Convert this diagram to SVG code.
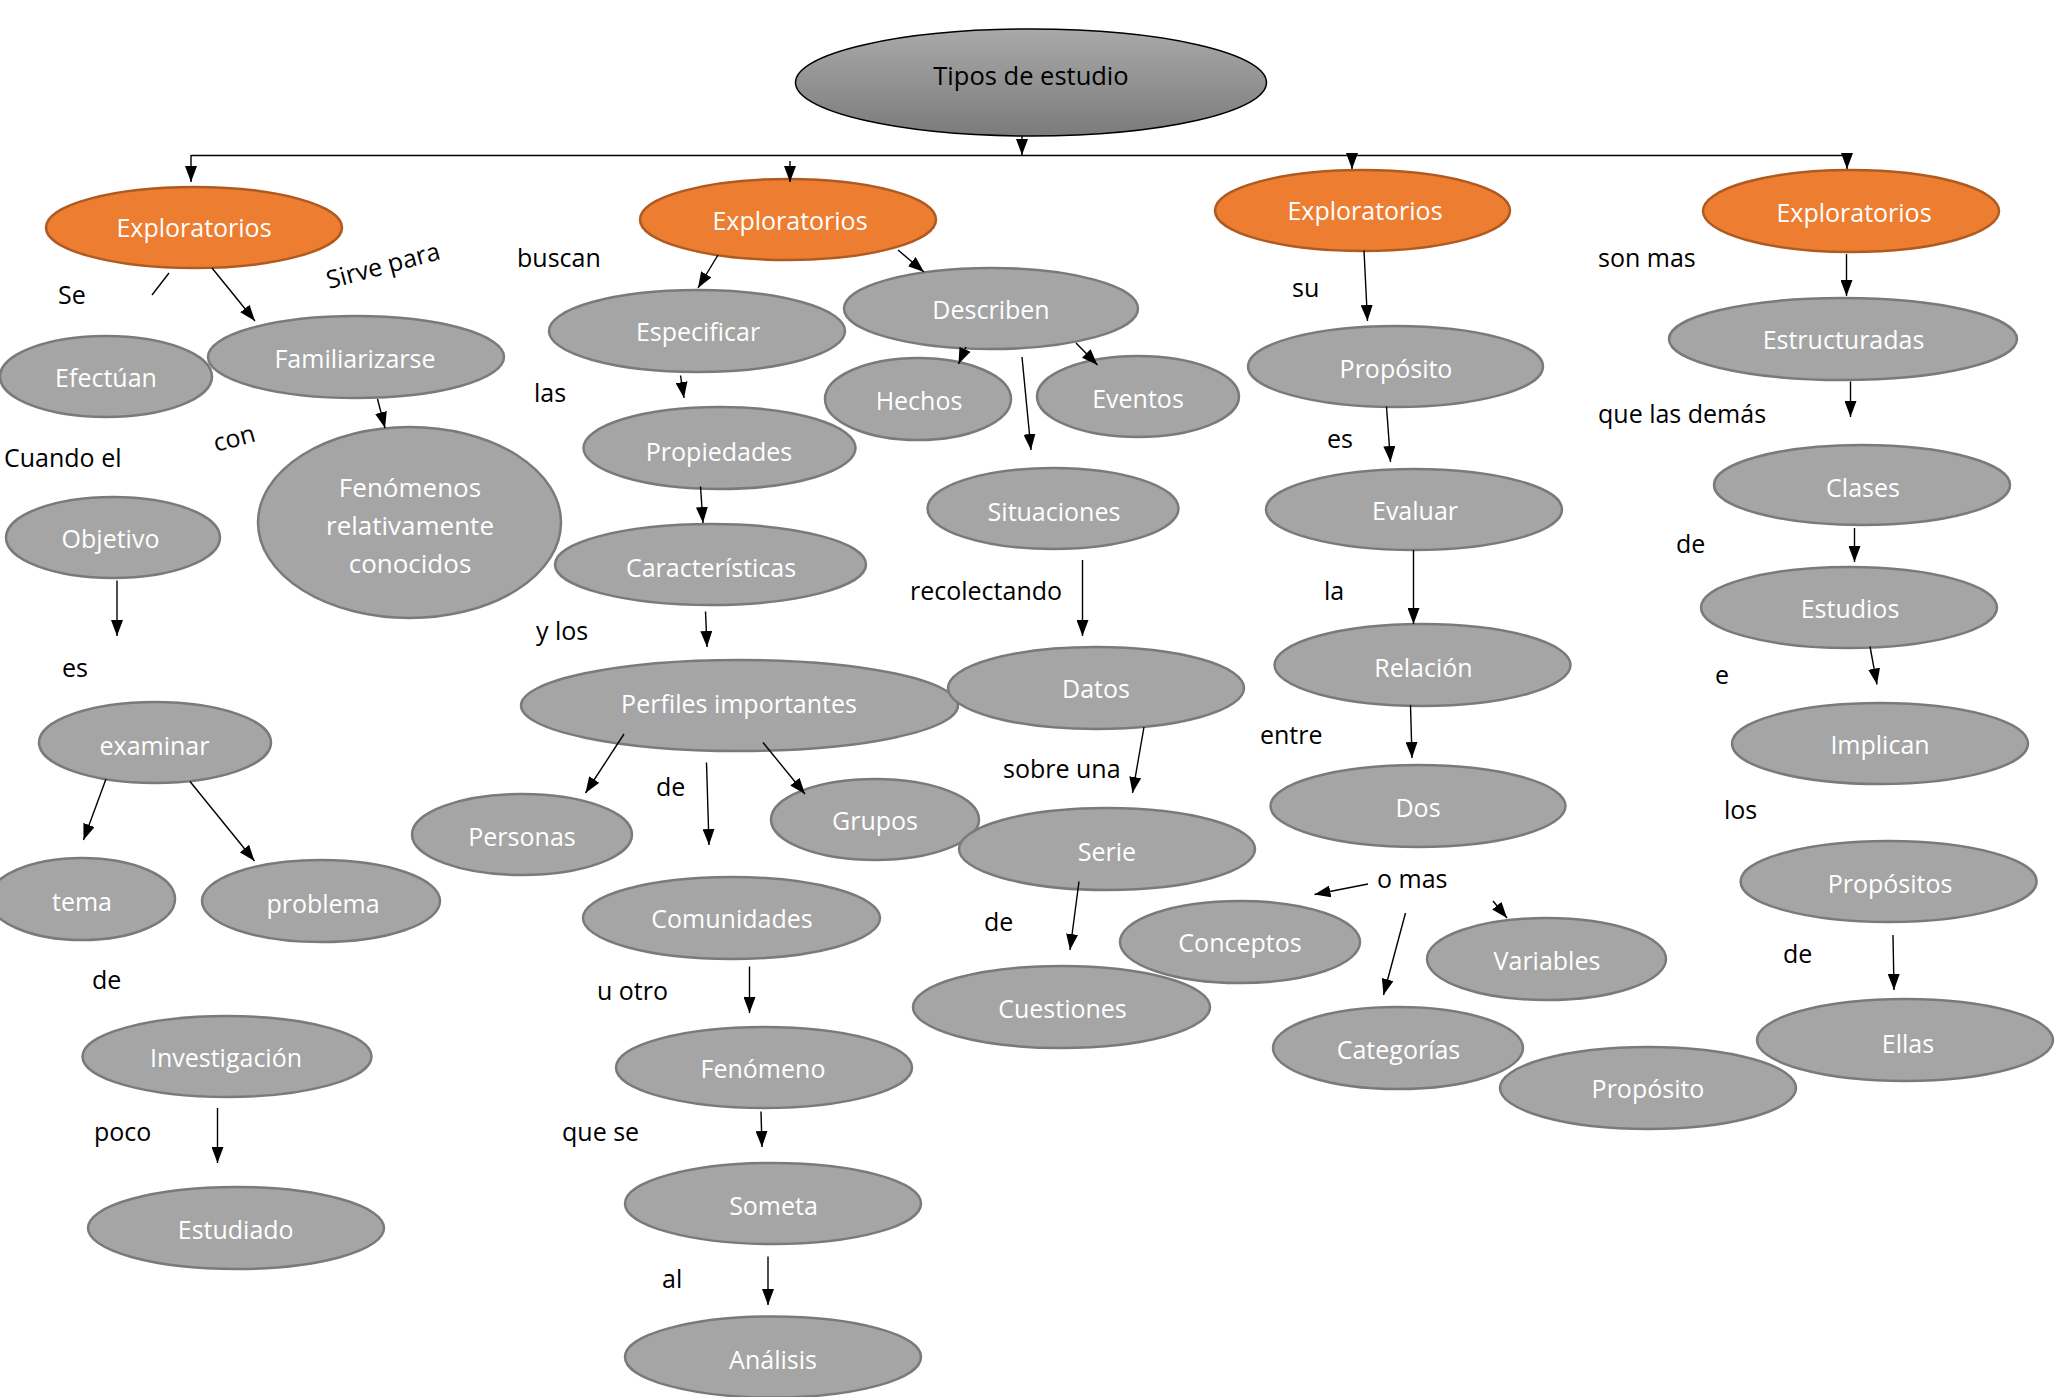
<svg xmlns="http://www.w3.org/2000/svg" width="2065" height="1397" viewBox="0 0 2065 1397">
<defs>
<linearGradient id="gMain" x1="0" y1="0" x2="0" y2="1">
<stop offset="0" stop-color="#a9a9a9"/>
<stop offset="1" stop-color="#7b7b7b"/>
</linearGradient>
<marker id="ah" markerUnits="userSpaceOnUse" markerWidth="16" markerHeight="12" refX="16" refY="6" orient="auto">
<path d="M0,0 L16,6 L0,12 z" fill="#000"/>
</marker>
<style>
.n{fill:#a5a5a5;stroke:#7a7a7a;stroke-width:2.5}
.o{fill:#ed7d31;stroke:#ae5a21;stroke-width:2.5}
.m{fill:url(#gMain);stroke:#000;stroke-width:1.5}
.t{font-family:"Open Sans","DejaVu Sans",sans-serif;font-size:25px;fill:#fff;text-anchor:middle}
.tm{font-family:"Open Sans","DejaVu Sans",sans-serif;font-size:25.5px;fill:#000;text-anchor:middle}
.l{font-family:"Open Sans","DejaVu Sans",sans-serif;font-size:25px;fill:#000}
.c line,.c path{stroke:#000;stroke-width:1.4;fill:none}
.a{marker-end:url(#ah)}
</style>
</defs>
<rect width="2065" height="1397" fill="#fff"/>

<g id="nodes">
<g id="n-main"><ellipse class="m" cx="1031" cy="82.5" rx="235.5" ry="53.5"/><text class="tm" x="1031" y="85">Tipos de estudio</text></g>
<g id="n-e1"><ellipse class="o" cx="194" cy="227.5" rx="148" ry="40.5"/><text class="t" x="194" y="237">Exploratorios</text></g>
<g id="n-e2"><ellipse class="o" cx="788" cy="219.5" rx="148" ry="40.5"/><text class="t" x="790" y="230">Exploratorios</text></g>
<g id="n-e3"><ellipse class="o" cx="1362.5" cy="210.5" rx="147.5" ry="40.5"/><text class="t" x="1365" y="220">Exploratorios</text></g>
<g id="n-e4"><ellipse class="o" cx="1851" cy="211" rx="148" ry="41"/><text class="t" x="1854" y="221.5">Exploratorios</text></g>
<g id="n-efectuan"><ellipse class="n" cx="106" cy="376.5" rx="106" ry="40.5"/><text class="t" x="106" y="387">Efectúan</text></g>
<g id="n-familiarizarse"><ellipse class="n" cx="356" cy="357" rx="148" ry="41"/><text class="t" x="355" y="367.5">Familiarizarse</text></g>
<g id="n-fenomenos"><ellipse class="n" cx="409.5" cy="522.5" rx="151.5" ry="95.5"/><text class="t" x="410" y="497" style="font-size:26px">Fenómenos</text><text class="t" x="410" y="535" style="font-size:26px">relativamente</text><text class="t" x="410" y="572.5" style="font-size:26px">conocidos</text></g>
<g id="n-especificar"><ellipse class="n" cx="697" cy="331" rx="148" ry="41"/><text class="t" x="698" y="341">Especificar</text></g>
<g id="n-describen"><ellipse class="n" cx="991" cy="308.5" rx="147" ry="40.5"/><text class="t" x="991" y="319">Describen</text></g>
<g id="n-hechos"><ellipse class="n" cx="918" cy="399" rx="93" ry="41"/><text class="t" x="919" y="410">Hechos</text></g>
<g id="n-eventos"><ellipse class="n" cx="1138" cy="396.5" rx="101" ry="40.5"/><text class="t" x="1138" y="408">Eventos</text></g>
<g id="n-proposito1"><ellipse class="n" cx="1395.5" cy="366.5" rx="147.5" ry="40.5"/><text class="t" x="1396" y="378">Propósito</text></g>
<g id="n-estructuradas"><ellipse class="n" cx="1843" cy="339" rx="174" ry="41"/><text class="t" x="1843.5" y="349">Estructuradas</text></g>
<g id="n-propiedades"><ellipse class="n" cx="719.5" cy="448" rx="136" ry="41"/><text class="t" x="719" y="460.5">Propiedades</text></g>
<g id="n-caracteristicas"><ellipse class="n" cx="710.5" cy="564.5" rx="155.5" ry="40.5"/><text class="t" x="711" y="576.5">Características</text></g>
<g id="n-situaciones"><ellipse class="n" cx="1053" cy="508.5" rx="125.5" ry="40.5"/><text class="t" x="1054" y="520.5">Situaciones</text></g>
<g id="n-perfiles"><ellipse class="n" cx="739.5" cy="705.5" rx="218.5" ry="45.5"/><text class="t" x="739" y="712.5">Perfiles importantes</text></g>
<g id="n-datos"><ellipse class="n" cx="1096" cy="688" rx="148" ry="41"/><text class="t" x="1096" y="698">Datos</text></g>
<g id="n-personas"><ellipse class="n" cx="522" cy="834.5" rx="110" ry="40.5"/><text class="t" x="522" y="846">Personas</text></g>
<g id="n-grupos"><ellipse class="n" cx="875" cy="819.5" rx="104" ry="40.5"/><text class="t" x="875" y="830">Grupos</text></g>
<g id="n-serie"><ellipse class="n" cx="1107" cy="849" rx="148" ry="41"/><text class="t" x="1107" y="860.5">Serie</text></g>
<g id="n-comunidades"><ellipse class="n" cx="731.5" cy="918" rx="148.5" ry="41"/><text class="t" x="732" y="928">Comunidades</text></g>
<g id="n-cuestiones"><ellipse class="n" cx="1061.5" cy="1007" rx="148.5" ry="41"/><text class="t" x="1062.5" y="1018">Cuestiones</text></g>
<g id="n-conceptos"><ellipse class="n" cx="1240" cy="942" rx="120" ry="41"/><text class="t" x="1240" y="951.5">Conceptos</text></g>
<g id="n-fenomeno"><ellipse class="n" cx="764" cy="1067.5" rx="148" ry="40.5"/><text class="t" x="763" y="1078">Fenómeno</text></g>
<g id="n-someta"><ellipse class="n" cx="773" cy="1203.5" rx="148" ry="40.5"/><text class="t" x="773.5" y="1215">Someta</text></g>
<g id="n-analisis"><ellipse class="n" cx="773" cy="1357" rx="148" ry="40.5"/><text class="t" x="773" y="1369">Análisis</text></g>
<g id="n-objetivo"><ellipse class="n" cx="113" cy="537.5" rx="107" ry="40.5"/><text class="t" x="110.5" y="548">Objetivo</text></g>
<g id="n-examinar"><ellipse class="n" cx="155" cy="742.5" rx="116" ry="40.5"/><text class="t" x="154.5" y="755">examinar</text></g>
<g id="n-tema"><ellipse class="n" cx="82" cy="899" rx="93" ry="41"/><text class="t" x="82" y="910.5">tema</text></g>
<g id="n-problema"><ellipse class="n" cx="321" cy="901" rx="119" ry="41"/><text class="t" x="323" y="913">problema</text></g>
<g id="n-investigacion"><ellipse class="n" cx="227" cy="1056.5" rx="144.5" ry="40.5"/><text class="t" x="226" y="1066.5">Investigación</text></g>
<g id="n-estudiado"><ellipse class="n" cx="236" cy="1228" rx="148" ry="41"/><text class="t" x="235.7" y="1239">Estudiado</text></g>
<g id="n-evaluar"><ellipse class="n" cx="1414" cy="509.5" rx="148" ry="40.5"/><text class="t" x="1415" y="520">Evaluar</text></g>
<g id="n-relacion"><ellipse class="n" cx="1422.5" cy="665" rx="148" ry="41"/><text class="t" x="1423.5" y="676.5">Relación</text></g>
<g id="n-dos"><ellipse class="n" cx="1418" cy="806" rx="147.5" ry="41"/><text class="t" x="1418" y="816.5">Dos</text></g>
<g id="n-clases"><ellipse class="n" cx="1862" cy="485" rx="148" ry="40"/><text class="t" x="1863" y="496.5">Clases</text></g>
<g id="n-estudios"><ellipse class="n" cx="1849" cy="607.5" rx="148" ry="40.5"/><text class="t" x="1850" y="618">Estudios</text></g>
<g id="n-implican"><ellipse class="n" cx="1880" cy="743.5" rx="148" ry="40.5"/><text class="t" x="1880" y="754">Implican</text></g>
<g id="n-propositos"><ellipse class="n" cx="1888.6" cy="881.5" rx="148" ry="40.5"/><text class="t" x="1890" y="893">Propósitos</text></g>
<g id="n-variables"><ellipse class="n" cx="1546.5" cy="959" rx="119.5" ry="41"/><text class="t" x="1547" y="970">Variables</text></g>
<g id="n-categorias"><ellipse class="n" cx="1398" cy="1048" rx="125" ry="41"/><text class="t" x="1398.5" y="1059">Categorías</text></g>
<g id="n-proposito2"><ellipse class="n" cx="1648" cy="1088" rx="148" ry="41"/><text class="t" x="1648" y="1098">Propósito</text></g>
<g id="n-ellas"><ellipse class="n" cx="1905" cy="1040" rx="148" ry="41"/><text class="t" x="1908" y="1052.5">Ellas</text></g>
</g>

<g id="labels">
<text class="l" x="58" y="304">Se</text>
<text class="l" x="329" y="289" transform="rotate(-15 329 289)">Sirve para</text>
<text class="l" x="517" y="267">buscan</text>
<text class="l" x="534" y="402">las</text>
<text class="l" x="216" y="452" transform="rotate(-15 216 452)">con</text>
<text class="l" x="4" y="467">Cuando el</text>
<text class="l" x="62" y="677">es</text>
<text class="l" x="92" y="989">de</text>
<text class="l" x="94" y="1141">poco</text>
<text class="l" x="536" y="640">y los</text>
<text class="l" x="656" y="796">de</text>
<text class="l" x="597" y="1000">u otro</text>
<text class="l" x="562" y="1141">que se</text>
<text class="l" x="662" y="1288">al</text>
<text class="l" x="910" y="600">recolectando</text>
<text class="l" x="1003" y="778">sobre una</text>
<text class="l" x="984" y="931">de</text>
<text class="l" x="1292" y="297">su</text>
<text class="l" x="1327" y="448">es</text>
<text class="l" x="1324" y="600">la</text>
<text class="l" x="1260" y="744">entre</text>
<text class="l" x="1377" y="888">o mas</text>
<text class="l" x="1598" y="267">son mas</text>
<text class="l" x="1598" y="423">que las demás</text>
<text class="l" x="1676" y="553">de</text>
<text class="l" x="1715" y="684">e</text>
<text class="l" x="1724" y="819">los</text>
<text class="l" x="1783" y="963">de</text>
</g>

<g id="connectors" class="c">
<line x1="191" y1="155.5" x2="1847" y2="155.5"/>
<line class="a" x1="1022" y1="136" x2="1022" y2="155"/>
<line class="a" x1="191" y1="155" x2="191" y2="182"/>
<line class="a" x1="790" y1="161" x2="790" y2="182"/>
<line class="a" x1="1352" y1="155" x2="1352" y2="169"/>
<line class="a" x1="1847" y1="155" x2="1847" y2="169"/>
<line x1="169" y1="273" x2="152" y2="295"/>
<line class="a" x1="212" y1="268" x2="255" y2="321"/>
<line class="a" x1="377.5" y1="399" x2="385" y2="428"/>
<line class="a" x1="718" y1="255" x2="698" y2="288"/>
<line class="a" x1="898" y1="250" x2="924" y2="272"/>
<line class="a" x1="680.5" y1="375.5" x2="684" y2="398"/>
<line class="a" x1="966" y1="347" x2="958.5" y2="364"/>
<line class="a" x1="1076" y1="343" x2="1097.5" y2="365"/>
<line class="a" x1="1022" y1="357" x2="1031" y2="450"/>
<line class="a" x1="700.5" y1="486.5" x2="703" y2="523"/>
<line class="a" x1="705.5" y1="611.5" x2="707" y2="647"/>
<line class="a" x1="624" y1="734" x2="585.5" y2="793"/>
<line class="a" x1="706.5" y1="762.5" x2="709" y2="845"/>
<line class="a" x1="763" y1="742.5" x2="805" y2="794"/>
<line class="a" x1="1082.5" y1="560" x2="1082.5" y2="636"/>
<line class="a" x1="1144" y1="727" x2="1132.5" y2="793"/>
<line class="a" x1="1079" y1="881.5" x2="1070" y2="950"/>
<line class="a" x1="749.5" y1="966.5" x2="749.5" y2="1013"/>
<line class="a" x1="761" y1="1111.5" x2="762" y2="1147"/>
<line class="a" x1="768" y1="1256.5" x2="768" y2="1305"/>
<line class="a" x1="117" y1="580.5" x2="117" y2="636"/>
<line class="a" x1="106" y1="779" x2="83.5" y2="840"/>
<line class="a" x1="190" y1="781.5" x2="254.5" y2="861"/>
<line class="a" x1="217.5" y1="1108" x2="217.5" y2="1163"/>
<line class="a" x1="1364" y1="250.5" x2="1367.5" y2="321"/>
<line class="a" x1="1386.5" y1="406.5" x2="1390.5" y2="462"/>
<line class="a" x1="1413.5" y1="550" x2="1413.5" y2="624"/>
<line class="a" x1="1410.5" y1="705" x2="1412" y2="758"/>
<line class="a" x1="1368" y1="884" x2="1314.5" y2="894.5"/>
<line class="a" x1="1405.5" y1="913" x2="1383.5" y2="995"/>
<line class="a" x1="1493" y1="901" x2="1507" y2="918"/>
<line class="a" x1="1846.5" y1="254" x2="1846.5" y2="296"/>
<line class="a" x1="1850.5" y1="381.5" x2="1850.5" y2="417"/>
<line class="a" x1="1854.5" y1="528" x2="1854.5" y2="562"/>
<line class="a" x1="1870" y1="646.5" x2="1877" y2="684.5"/>
<line class="a" x1="1893" y1="935" x2="1894" y2="990"/>
</g>
</svg>
